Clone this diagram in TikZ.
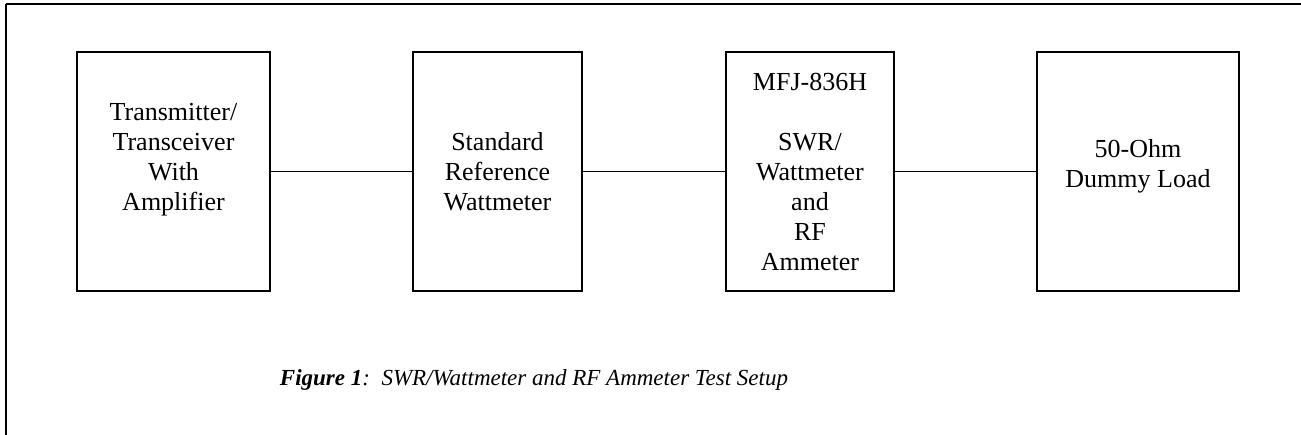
\documentclass[tikz,border=0pt]{standalone}
\usepackage{fontspec}
\setmainfont{Liberation Serif}
\usetikzlibrary{positioning}

\tikzset{
  unit/.style={draw, line width=0.9pt, minimum height=119.5pt, inner sep=0pt},
  unittext/.style={align=center, font=\fontsize{13}{15}\selectfont, inner sep=0pt},
  link/.style={line width=0.8pt}
}

\begin{document}
\begin{tikzpicture}[x=0.5pt,y=-0.5pt]
		\useasboundingbox (0,0) rectangle (1301,434);
		% frame
		\draw[line width=0.8pt] (6,4) -- (1310,4);
		\draw[line width=1.1pt] (6,4) -- (6,440);
		
		\node[unit, minimum width=96.5pt] (tx) at (173.5,171.5) {};
		\node[unit, minimum width=84.5pt] (ref) at (497.5,171.5) {};
		\node[unit, minimum width=84pt] (mfj) at (810,171.5) {};
		\node[unit, minimum width=101pt] (load) at (1138,171.5) {};
		
		\node[unittext, yshift=6pt] (tx-txt) at (tx) {Transmitter/\\Transceiver\\With\\Amplifier};
		\node[unittext] (ref-txt) at (ref) {Standard\\Reference\\Wattmeter};
		\node[unittext] (mfj-txt) at (mfj) {MFJ-836H\\[15pt]SWR/\\Wattmeter\\and\\RF\\Ammeter};
		\node[unittext, yshift=2.5pt] (load-txt) at (load) {50-Ohm\\Dummy Load};
		
		\draw[link] (tx) -- (ref);
		\draw[link] (ref) -- (mfj);
		\draw[link] (mfj) -- (load);
		
		\node[font=\fontsize{11.5}{14}\selectfont\itshape, anchor=base] (cap) at (534,385)
			{\textbf{Figure 1}:\ \ SWR/Wattmeter and RF Ammeter Test Setup};
\end{tikzpicture}
\end{document}
